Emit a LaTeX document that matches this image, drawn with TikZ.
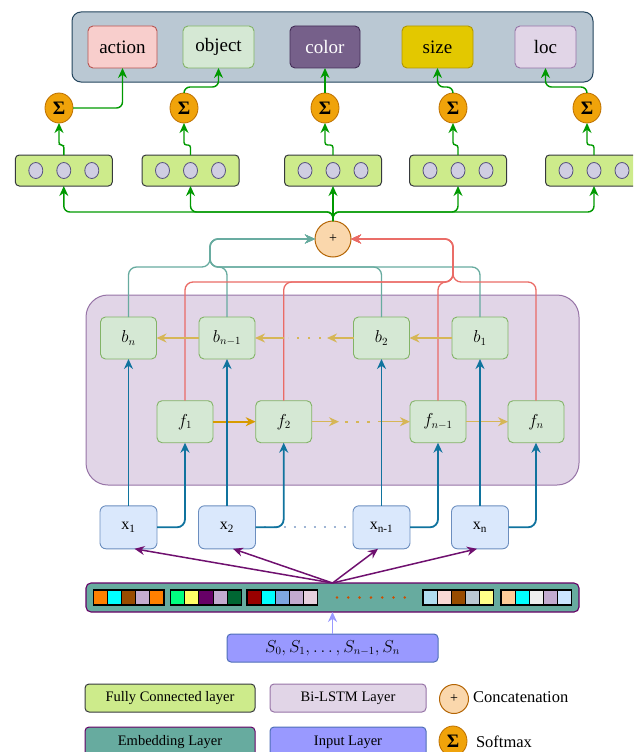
\documentclass[tikz,border=0pt]{standalone}
\usepackage{fontspec}
\setmainfont{Liberation Serif}
\usetikzlibrary{arrows.meta,shapes.geometric}
\definecolor{topfill}{HTML}{BAC8D3}
\definecolor{topdraw}{HTML}{23445D}
\definecolor{actfill}{HTML}{F8CECC}
\definecolor{actdraw}{HTML}{B85450}
\definecolor{objfill}{HTML}{D5E8D4}
\definecolor{objdraw}{HTML}{82B366}
\definecolor{colfill}{HTML}{76608A}
\definecolor{coldraw}{HTML}{432D57}
\definecolor{sizfill}{HTML}{E3C800}
\definecolor{sizdraw}{HTML}{B09500}
\definecolor{locfill}{HTML}{E1D5E7}
\definecolor{locdraw}{HTML}{9673A6}
\definecolor{sigfill}{HTML}{F0A30A}
\definecolor{sigdraw}{HTML}{BD7000}
\definecolor{fcfill}{HTML}{CDEB8B}
\definecolor{fcdraw}{HTML}{36393D}
\definecolor{dotfill}{HTML}{D0CEE2}
\definecolor{dotdraw}{HTML}{56517E}
\definecolor{catfill}{HTML}{FAD7AC}
\definecolor{catdraw}{HTML}{B46504}
\definecolor{gline}{HTML}{009900}
\definecolor{tline}{HTML}{67AB9F}
\definecolor{rline}{HTML}{EA6B66}
\definecolor{bline}{HTML}{10739E}
\definecolor{yline}{HTML}{D6B656}
\definecolor{oline}{HTML}{D79B00}
\definecolor{pline}{HTML}{6F106F}
\definecolor{iline}{HTML}{9999FF}
\definecolor{xfill}{HTML}{DAE8FC}
\definecolor{xdraw}{HTML}{6C8EBF}
\definecolor{embfill}{HTML}{67AB9F}
\definecolor{embdraw}{HTML}{660066}
\definecolor{inpfill}{HTML}{9999FF}
\definecolor{inpdraw}{HTML}{4F6FB8}
\definecolor{xdots}{HTML}{9FB5D4}
\definecolor{edots}{HTML}{CC4D00}
% embedding cell colours
\definecolor{e11}{HTML}{FF8000}\definecolor{e12}{HTML}{00FFFF}\definecolor{e13}{HTML}{994C00}\definecolor{e14}{HTML}{C3ABD0}\definecolor{e15}{HTML}{FF8000}
\definecolor{e21}{HTML}{00FF80}\definecolor{e22}{HTML}{FFFF66}\definecolor{e23}{HTML}{660066}\definecolor{e24}{HTML}{C3ABD0}\definecolor{e25}{HTML}{006633}
\definecolor{e31}{HTML}{990000}\definecolor{e32}{HTML}{00FFFF}\definecolor{e33}{HTML}{7EA6E0}\definecolor{e34}{HTML}{C3ABD0}\definecolor{e35}{HTML}{E6D0DE}
\definecolor{e41}{HTML}{B1DDF0}\definecolor{e42}{HTML}{FAD9D5}\definecolor{e43}{HTML}{994C00}\definecolor{e44}{HTML}{BAC8D3}\definecolor{e45}{HTML}{FFFF88}
\definecolor{e51}{HTML}{FFCC99}\definecolor{e52}{HTML}{00FFFF}\definecolor{e53}{HTML}{EEEEEE}\definecolor{e54}{HTML}{C3ABD0}\definecolor{e55}{HTML}{CCE5FF}
\newcommand\fsz[1]{\fontsize{#1}{#1}\selectfont}
\newcommand\sigsym{\textbf{Σ}}
\begin{document}
\begin{tikzpicture}[x=1pt,y=-1pt,
  every node/.style={inner sep=0pt,outer sep=0pt},
  lab/.style={draw,rounded corners=5pt,line width=0.9pt,minimum height=42pt,font=\fsz{19}},
  sig/.style={ellipse,draw=sigdraw,fill=sigfill,line width=0.8pt,minimum width=28pt,minimum height=30pt,font=\fsz{19}},
  fcbox/.style={draw=fcdraw,fill=fcfill,rounded corners=4pt,line width=1pt,minimum width=97pt,minimum height=31pt},
  fcdot/.style={ellipse,draw=dotdraw,fill=dotfill,line width=0.8pt,minimum width=14pt,minimum height=16pt},
  cell/.style={draw=objdraw,fill=objfill,rounded corners=5pt,line width=0.9pt,minimum width=56pt,minimum height=42pt,font=\fsz{16}},
  xbox/.style={draw=xdraw,fill=xfill,rounded corners=6pt,line width=0.9pt,minimum width=57pt,minimum height=43pt,font=\fsz{16}},
  tip/.style={-{Stealth[length=10pt,width=9pt]}},
  garr/.style={draw=gline,line width=1.4pt,rounded corners=6pt,tip},
  garrs/.style={draw=gline,line width=1.4pt,rounded corners=2.5pt,tip},
  tarr/.style={draw=tline,line width=1.3pt,rounded corners=8pt,tip},
  rarr/.style={draw=rline,line width=1.3pt,rounded corners=8pt,tip},
  barr/.style={draw=bline,line width=1.8pt,rounded corners=8pt,tip},
  yarr/.style={draw=yline,line width=1.5pt,tip},
  oarr/.style={draw=oline,line width=1.8pt,tip},
  ydots/.style={draw=yline,line width=2.4pt,dash pattern=on 2.5pt off 8.5pt},
  parr/.style={draw=pline,line width=1.5pt,tip},
  legbox/.style={rounded corners=4pt,line width=1pt,minimum height=28pt,font=\fsz{14.5}}
]
\useasboundingbox (0,0) rectangle (633,752);
\clip (0,0) rectangle (633,752);

% ---------- output box ----------
\node[draw=topdraw,fill=topfill,rounded corners=9pt,line width=1pt,minimum width=521pt,minimum height=70pt] (topbox) at (332.5,47) {};
\node[lab,draw=actdraw,fill=actfill,minimum width=69pt] (action) at (122.5,47) {action};
\node[lab,draw=objdraw,fill=objfill,minimum width=71pt] (object) at (218.5,47) {object};
\node[lab,draw=coldraw,fill=colfill,minimum width=70pt,text=white] (color) at (325,47) {color};
\node[lab,draw=sizdraw,fill=sizfill,minimum width=71pt] (size) at (437.5,47) {size};
\node[lab,draw=locdraw,fill=locfill,minimum width=61pt] (loc) at (545.5,47) {loc};

% ---------- softmax ----------
\node[sig] (s1) at (59,108) {\sigsym};
\node[sig] (s2) at (184,108) {\sigsym};
\node[sig] (s3) at (325,108) {\sigsym};
\node[sig] (s4) at (453,108) {\sigsym};
\node[sig] (s5) at (587,108) {\sigsym};

\draw[garr] (s1.east) -| (action.south);
\draw[garr] (s2.north) -- ++(0,-6) -| (object.south);
\draw[garr] (s3.north) -- (color.south);
\draw[garr] (s4.north) -- ++(0,-6) -| (size.south);
\draw[garr] (s5.north) -- ++(0,-6) -| (loc.south);

% ---------- fully connected ----------
\foreach \n/\cx in {1/63.8,2/190.5,3/333,4/458,5/594}{
  \node[fcbox] (fc\n) at (\cx,170.5) {};
  \node[fcdot] (fc\n a) at (\cx-28,170.5) {};
  \node[fcdot] (fc\n b) at (\cx,170.5) {};
  \node[fcdot] (fc\n c) at (\cx+28,170.5) {};
}
\draw[garrs] (fc1.north) -- ++(0,-10) -| (s1.south);
\draw[garrs] (fc2.north) -- ++(0,-10) -| (s2.south);
\draw[garrs] (fc3.north) -- ++(0,-10) -| (s3.south);
\draw[garrs] (fc4.north) -- ++(0,-10) -| (s4.south);
\draw[garrs] (fc5.north) -- ++(0,-10) -| (s5.south);

% ---------- concatenation ----------
\node[circle,draw=catdraw,fill=catfill,line width=1pt,minimum size=36pt,font=\fsz{14}] (cat) at (333,239) {+};
\foreach \n in {1,2,3,4,5}{
  \draw[garr] (cat.north) -- ++(0,-9) -| (fc\n.south);
}

% ---------- Bi-LSTM ----------
\node[draw=locdraw,fill=locfill,rounded corners=22pt,line width=1pt,minimum width=493pt,minimum height=190pt] (lstm) at (332.5,390) {};

\node[cell] (bn)  at (128.5,338) {$b_n$};
\node[cell] (bnm) at (227,338)   {$b_{n-1}$};
\node[cell] (b2)  at (381.5,338) {$b_2$};
\node[cell] (b1)  at (480,338)   {$b_1$};
\node[cell] (f1)  at (185,421.7)   {$f_1$};
\node[cell] (f2)  at (283.7,421.7) {$f_2$};
\node[cell] (fnm) at (438,421.7)   {$f_{n-1}$};
\node[cell] (fn)  at (536,421.7)   {$f_n$};

\coordinate (tj) at (210,267);
\coordinate (rj) at (453,282);
\foreach \b in {bn,bnm,b2,b1}{
  \draw[tarr] (\b.north) |- (tj) |- (cat.west);
}
\foreach \f in {f1,f2,fnm,fn}{
  \draw[rarr] (\f.north) |- (rj) |- (cat.east);
}

% recurrent arrows
\coordinate (bd1) at (327,338);
\coordinate (bd2) at (284,338);
\draw[yarr] (b1.west) -- (b2.east);
\draw[yarr] (b2.west) -- (bd1);
\draw[ydots] ([xshift=-6pt]bd1) -- ([xshift=4pt]bd2);
\draw[yarr] (bd2) -- (bnm.east);
\draw[yarr] (bnm.west) -- (bn.east);

\coordinate (fd1) at (339,421.7);
\coordinate (fd2) at (378,421.7);
\draw[oarr] (f1.east) -- (f2.west);
\draw[yarr] (f2.east) -- (fd1);
\draw[ydots] ([xshift=6pt]fd1) -- ([xshift=-2pt]fd2);
\draw[yarr] (fd2) -- (fnm.west);
\draw[yarr] (fnm.east) -- (fn.west);

% ---------- inputs x ----------
\node[xbox] (x1)  at (128.5,527.3) {x\textsubscript{1}};
\node[xbox] (x2)  at (227,527.3)   {x\textsubscript{2}};
\node[xbox] (xnm) at (381.5,527.3) {x\textsubscript{n-1}};
\node[xbox] (xn)  at (480,527.3)   {x\textsubscript{n}};

\draw[draw=xdots,line width=2.2pt,dash pattern=on 2pt off 8pt] ([xshift=8pt]x2.east) -- (xnm.west);

\draw[barr] (x1.north) -- (bn.south);
\draw[barr] (x2.north) -- (bnm.south);
\draw[barr] (xnm.north) -- (b2.south);
\draw[barr] (xn.north) -- (b1.south);
\draw[barr] (x1.east) -| (f1.south);
\draw[barr] (x2.east) -| (f2.south);
\draw[barr] (xnm.east) -| (fnm.south);
\draw[barr] (xn.east) -| (fn.south);

% ---------- embedding ----------
\node[draw=embdraw,fill=embfill,rounded corners=5pt,line width=1.1pt,minimum width=493pt,minimum height=29pt] (emb) at (332.5,597.5) {};
\foreach \gx/\g in {93.5/1,170.7/2,247/3,423/4,501/5}{
  \foreach \k in {1,...,5}{
    \draw[black,line width=0.9pt,fill=e\g\k] ({\gx+(\k-1)*14.1},590) rectangle ++(14.1,15);
  }
  \draw[black,line width=1.3pt] (\gx,590) rectangle ++(70.5,15);
}
\foreach \i in {0,...,6}{
  \fill[edots] ({337+\i*11.3},597.5) circle (1.4pt);
}

\draw[parr] (emb.north) -- ([xshift=6pt]x1.south);
\draw[parr] (emb.north) -- ([xshift=6pt]x2.south);
\draw[parr] (emb.north) -- ([xshift=-3.5pt]xnm.south);
\draw[parr] (emb.north) -- ([xshift=-3pt]xn.south);

% ---------- input layer ----------
\node[draw=inpdraw,fill=inpfill,rounded corners=4pt,line width=1pt,minimum width=211pt,minimum height=28pt,font=\fsz{16}] (inp) at (332.5,648) {$S_0,S_1,\ldots,S_{n-1},S_n$};
\draw[draw=iline,line width=1.8pt,tip] (inp.north) -- (emb.south);

% ---------- legend ----------
\node[legbox,draw=fcdraw,fill=fcfill,minimum width=170pt] (lfc) at (170,698) {Fully Connected layer};
\node[legbox,draw=locdraw,fill=locfill,minimum width=156pt] (llstm) at (348,698) {Bi-LSTM Layer};
\node[circle,draw=catdraw,fill=catfill,line width=1pt,minimum size=29pt,font=\fsz{14}] (lcat) at (454,699) {+};
\node[anchor=west,font=\fsz{16.5}] (lcatt) at (473,697) {Concatenation};
\node[legbox,draw=embdraw,fill=embfill,minimum width=170pt,minimum height=30pt] (lemb) at (170,742) {Embedding Layer};
\node[legbox,draw=inpdraw,fill=inpfill,minimum width=156pt,minimum height=30pt] (linp) at (348,742) {Input Layer};
\node[sig] (lsig) at (453,741) {\sigsym};
\node[anchor=west,font=\fsz{16.5}] (lsigt) at (476,742) {Softmax};
\end{tikzpicture}
\end{document}
